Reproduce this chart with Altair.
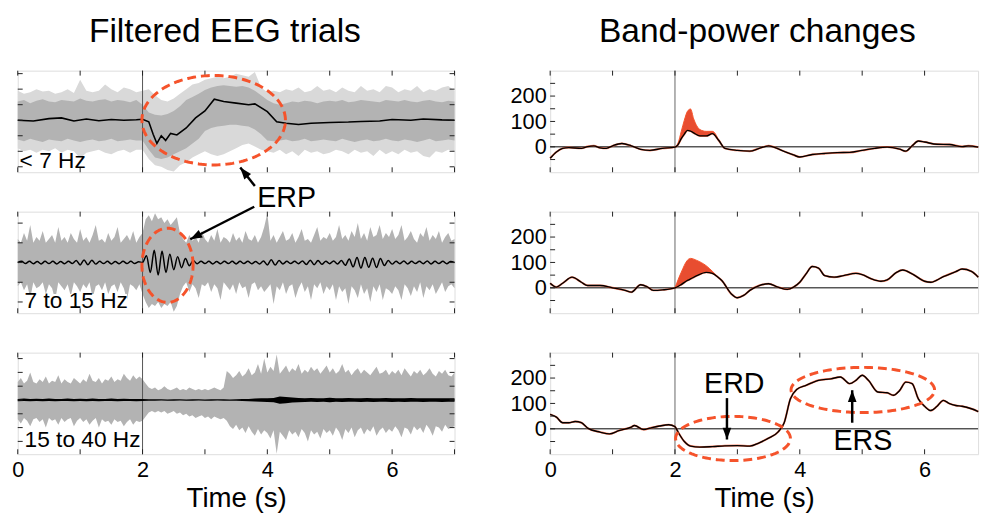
import altair as alt
import numpy as np
import pandas as pd

FONT = "Liberation Sans"
GREY = "#b3b3b3"
GREY_LIGHT = "#d9d9d9"
RED = "#f5532b"
ORANGE = "#e84d30"
TICK = "#222222"
VLINE = "#555555"

W_L, W_R, H = 443, 434, 103
X_MAX_R = 6.857
TL = 5  # inward tick length (px)

# ---------------- time grids ----------------
t10 = np.round(np.arange(71) * 0.1, 3)
t05 = np.round(np.arange(141) * 0.05, 3)
t_osc = np.round(np.arange(113) * 0.0625, 4)

# ---------------- Left 1 : < 7 Hz ----------------
l1_core_hi = [1.2, 1.3, 1.1, 1.25, 1.35, 1.2, 1.15, 1.3, 1.25, 1.2,
              1.4, 1.25, 1.2, 1.3, 1.35, 1.2, 1.3, 1.25, 1.15, 1.3,
              1.0, 0.5, 0.35, 0.3, 0.4, 0.6, 0.9, 1.3, 1.5, 1.7,
              1.95, 2.1, 2.2, 2.25, 2.2, 2.15, 2.2, 2.1, 1.9, 1.6,
              1.3, 1.1, 1.0, 1.1, 1.2, 1.15, 1.25, 1.2, 1.1, 1.2,
              1.25, 1.2, 1.3, 1.15, 1.2, 1.3, 1.25, 1.2, 1.15, 1.3,
              1.25, 1.2, 1.3, 1.2, 1.15, 1.25, 1.3, 1.2, 1.15, 1.25, 1.2]
l1_core_lo = [-1.25, -1.35, -1.2, -1.3, -1.4, -1.25, -1.3, -1.35, -1.2, -1.3,
              -1.4, -1.3, -1.25, -1.35, -1.3, -1.2, -1.35, -1.3, -1.25, -1.3,
              -1.3, -1.9, -2.4, -2.5, -2.4, -2.2, -2.0, -1.8, -1.5, -1.2,
              -0.7, -0.5, -0.4, -0.35, -0.3, -0.3, -0.35, -0.4, -0.6, -0.9,
              -1.3, -1.35, -1.3, -1.25, -1.35, -1.3, -1.2, -1.35, -1.3, -1.25,
              -1.3, -1.35, -1.2, -1.3, -1.4, -1.3, -1.25, -1.35, -1.3, -1.2,
              -1.3, -1.35, -1.25, -1.3, -1.4, -1.3, -1.2, -1.35, -1.3, -1.25, -1.3]
l1_outer_hi = [1.9, 1.7, 1.8, 2.0, 1.85, 1.9, 1.7, 1.8, 2.0, 1.75,
               2.6, 1.9, 1.8, 1.9, 2.3, 2.0, 1.8, 2.1, 2.0, 1.8,
               1.9, 2.0, 1.6, 1.3, 1.2, 1.4, 1.7, 2.0, 2.3, 2.4,
               2.6, 2.7, 2.8, 2.7, 2.8, 3.0, 2.9, 2.8, 3.1, 2.1,
               1.8, 1.9, 1.8, 2.0, 1.9, 2.1, 1.8, 1.9, 2.2, 1.9,
               2.0, 1.8, 2.1, 1.9, 1.8, 2.2, 1.9, 2.0, 1.8, 2.2,
               2.1, 1.8, 2.0, 1.9, 2.2, 1.8, 2.0, 1.9, 2.1, 2.2, 1.9]
l1_outer_lo = [-1.8, -2.0, -1.9, -2.1, -1.9, -2.0, -1.8, -2.1, -1.9, -2.0,
               -2.45, -2.1, -2.0, -1.9, -2.1, -2.2, -2.0, -1.9, -2.1, -1.9,
               -1.9, -2.5, -2.9, -3.0, -3.2, -3.3, -2.9, -2.7, -2.4, -2.2,
               -2.0, -2.2, -2.3, -2.2, -2.0, -1.8, -1.6, -1.5, -1.7, -1.9,
               -2.0, -2.1, -1.9, -2.2, -2.0, -2.3, -1.9, -2.1, -2.0, -2.2,
               -2.1, -1.9, -2.0, -2.2, -1.9, -2.1, -2.0, -2.3, -1.9, -2.2,
               -2.0, -2.2, -1.9, -2.1, -2.0, -2.3, -2.4, -2.0, -2.1, -1.9, -2.0]
l1_mean_t = [0, 0.25, 0.5, 0.7, 0.9, 1.1, 1.3, 1.5, 1.7, 1.9,
             2.0, 2.1, 2.17, 2.23, 2.3, 2.37, 2.45, 2.55, 2.7, 2.85,
             3.0, 3.15, 3.3, 3.5, 3.7, 3.8, 4.0, 4.15, 4.3, 4.5,
             4.7, 5.0, 5.3, 5.5, 5.8, 6.0, 6.3, 6.5, 6.8, 7.0]
l1_mean_v = [0.0, -0.05, 0.1, 0.15, -0.05, 0.08, -0.03, 0.05, 0.0, 0.03,
             0.06, -0.1, -0.9, -1.5, -1.0, -1.3, -0.85, -0.95, -0.5, 0.15,
             0.6, 1.35, 1.2, 1.1, 1.0, 1.05, 0.55, -0.1, -0.2, -0.28,
             -0.2, -0.15, -0.12, -0.08, -0.05, 0.05, 0.0, 0.08, 0.02, 0.0]

# ---------------- Left 2 : 7 to 15 Hz ----------------
l2_hi = [1.2, 1.0, 1.5, 1.1, 1.9, 1.0, 1.3, 1.1, 1.6, 1.0, 1.2, 1.4, 1.0, 1.8, 1.1, 1.3, 1.0, 1.5, 1.2, 1.0,
         1.7, 1.1, 1.3, 1.0, 1.4, 1.9, 1.1, 1.2, 1.0, 1.5, 1.1, 1.3, 1.8, 1.0, 1.2, 1.4, 1.1, 1.6, 1.0, 1.3,
         1.5, 2.2, 2.4, 2.1, 2.5, 2.2, 2.3, 2.0, 2.2, 1.9, 2.1, 2.3, 1.5, 1.2, 1.0, 1.4, 1.1, 1.3, 1.0, 1.6,
         1.2, 1.0, 1.4, 1.1, 1.7, 1.0, 1.3, 1.2, 1.0, 1.5, 1.1, 1.3, 1.0, 1.6, 1.2, 1.1, 1.4, 1.0, 1.3, 1.8,
         2.5, 1.1, 1.4, 1.0, 1.3, 1.6, 1.1, 1.2, 1.5, 1.0, 1.3, 1.7, 1.1, 1.2, 1.0, 1.4, 1.8, 1.1, 1.3, 1.2,
         1.5, 1.1, 1.3, 1.9, 1.2, 1.4, 1.1, 1.6, 1.3, 2.0, 1.2, 1.5, 1.1, 1.8, 1.3, 1.4, 1.9, 1.2, 1.5, 1.3,
         1.7, 1.2, 1.4, 1.9, 1.1, 1.3, 1.6, 1.2, 1.0, 1.5, 1.3, 1.8, 1.1, 1.4, 1.2, 1.6, 1.0, 1.3, 1.5, 1.1, 1.2]
l2_lo = [-1.2, -1.0, -1.4, -1.1, -1.8, -1.0, -1.3, -1.2, -1.0, -1.6, -1.1, -1.3, -1.9, -1.0, -1.2, -1.4, -1.1, -1.7, -1.0, -1.2,
         -1.5, -1.1, -1.3, -1.0, -1.8, -1.2, -1.1, -1.4, -1.0, -1.6, -1.2, -1.1, -1.5, -1.0, -1.3, -1.9, -1.1, -1.2, -1.4, -1.1,
         -1.6, -2.0, -2.3, -2.1, -2.2, -2.0, -2.3, -2.1, -2.2, -2.0, -2.5, -2.2, -1.6, -1.2, -1.0, -1.5, -1.1, -1.3, -1.8, -1.1,
         -1.2, -1.0, -1.5, -1.1, -1.3, -1.9, -1.0, -1.2, -1.4, -1.1, -1.6, -1.0, -1.3, -1.2, -1.8, -1.1, -1.0, -1.4, -1.2, -1.5,
         -1.3, -1.1, -2.1, -1.2, -1.4, -1.0, -1.6, -1.2, -1.1, -1.8, -1.3, -1.0, -1.5, -1.2, -1.9, -1.1, -1.3, -1.0, -1.6, -1.2,
         -1.4, -1.1, -1.9, -1.2, -1.5, -1.3, -2.1, -1.2, -1.4, -1.8, -1.1, -1.6, -1.3, -2.0, -1.2, -1.5, -1.1, -1.9, -1.3, -1.4,
         -1.6, -1.2, -1.4, -1.9, -1.1, -1.3, -1.7, -1.2, -1.5, -1.0, -1.8, -1.2, -1.4, -1.1, -1.6, -1.3, -1.0, -1.5, -1.2, -1.1, -1.3]
l2_mean = [0.0, 0.06, -0.05, 0.07, -0.06, 0.05, -0.07, 0.06,
           -0.05, 0.06, -0.07, 0.05, -0.06, 0.07, -0.05, 0.1,
           -0.12, 0.13, -0.11, 0.12, -0.08, 0.06, -0.05, 0.06,
           -0.07, 0.05, -0.06, 0.07, -0.05, 0.06, -0.05, 0.04,
           0.0,
           0.35, -0.5, 0.62, -0.63, 0.57, -0.5, 0.42, -0.36, 0.3, -0.26, 0.2, -0.16, 0.1,
           -0.06, 0.07, -0.05, 0.06, -0.07, 0.05, -0.06, 0.07,
           -0.05, 0.06, -0.07, 0.06, -0.05, 0.07, -0.06, 0.05,
           -0.07, 0.08, -0.12, 0.14, -0.13, 0.1, -0.07, 0.06,
           -0.05, 0.07, -0.06, 0.08, -0.1, 0.12, -0.11, 0.1,
           -0.09, 0.07, -0.06, 0.08, -0.07, 0.1, -0.14, 0.18,
           -0.22, 0.25, -0.28, 0.26, -0.24, 0.22, -0.25, 0.2,
           -0.15, 0.1, -0.08, 0.07, -0.06, 0.08, -0.07, 0.06,
           -0.05, 0.07, -0.06, 0.08, -0.07, 0.06, -0.05, 0.07,
           -0.06, 0.05, 0.0]

# ---------------- Left 3 : 15 to 40 Hz ----------------
l3_hi = [1.3, 1.6, 1.2, 1.4, 2.0, 1.3, 1.2, 1.5, 1.3, 1.7, 1.2, 1.4, 1.3, 1.8, 1.2, 1.5, 1.3, 1.2, 1.6, 1.4,
         1.2, 1.5, 1.3, 1.9, 1.4, 1.3, 1.6, 1.2, 1.5, 1.4, 1.7, 1.3, 1.5, 1.4, 1.9, 1.6, 1.4, 1.8, 1.5, 1.7,
         1.5, 1.2, 0.9, 0.8, 0.9, 0.7, 0.8, 1.0, 0.8, 0.7, 0.8, 0.9, 0.7, 0.8, 0.7, 0.9, 0.8, 0.7, 0.8, 0.7,
         0.8, 0.7, 0.8, 0.9, 0.8, 0.7, 0.9, 2.1, 1.9, 1.6, 1.8, 2.1, 1.7, 1.9, 2.3, 1.8, 2.0, 2.6, 1.9, 3.0,
         2.0, 2.4, 2.1, 3.3, 1.9, 2.2, 2.5, 2.0, 2.3, 2.1, 2.6, 1.9, 2.2, 2.0, 2.4, 2.1, 2.3, 1.9, 2.2, 2.5,
         2.0, 2.3, 1.9, 2.1, 2.6, 2.0, 2.2, 1.8, 2.1, 2.3, 1.9, 2.2, 2.0, 1.8, 2.1, 2.4, 1.9, 2.0, 2.2, 1.8,
         2.1, 1.9, 2.2, 1.8, 2.3, 2.0, 1.7, 2.1, 1.9, 2.2, 1.8, 2.0, 2.3, 1.9, 1.7, 2.1, 1.9, 2.2, 1.8, 1.7, 2.0]
l3_lo = [-1.4, -1.7, -1.3, -1.5, -1.9, -1.4, -1.3, -1.6, -1.4, -2.0, -1.3, -1.5, -1.4, -1.8, -1.3, -1.6, -1.4, -1.3, -1.9, -1.5,
         -1.3, -1.6, -1.4, -1.8, -1.5, -1.3, -2.0, -1.4, -1.6, -1.5, -1.8, -1.4, -1.6, -1.5, -1.9, -1.6, -1.4, -1.8, -1.5, -1.6,
         -1.5, -1.2, -0.9, -0.8, -0.9, -0.8, -0.9, -0.8, -1.0, -0.9, -0.8, -1.0, -0.9, -1.1, -1.0, -1.2, -1.1, -1.3, -1.2, -1.1,
         -1.3, -1.2, -1.4, -1.2, -1.3, -1.4, -1.3, -1.5, -1.9, -2.1, -1.8, -2.2, -2.0, -2.4, -1.9, -2.3, -2.6, -2.1, -2.5, -2.2,
         -2.4, -2.8, -2.2, -3.9, -2.3, -2.6, -2.9, -2.2, -2.5, -2.3, -2.7, -2.1, -2.4, -3.0, -2.2, -2.5, -2.3, -2.8, -2.1, -2.4,
         -2.2, -2.6, -2.0, -2.3, -2.9, -2.1, -2.4, -2.0, -2.7, -2.2, -2.0, -2.5, -2.1, -2.3, -1.9, -2.6, -2.2, -2.0, -2.4, -2.1,
         -2.3, -1.9, -2.2, -2.7, -2.0, -2.1, -2.5, -1.9, -2.2, -2.0, -2.4, -1.8, -2.1, -2.6, -1.9, -2.0, -2.3, -1.8, -2.1, -2.0, -1.9]
l3_mean_hi = [0.08, 0.1, 0.07, 0.09, 0.08, 0.1, 0.07, 0.08, 0.1, 0.07,
              0.09, 0.08, 0.11, 0.07, 0.08, 0.1, 0.07, 0.09, 0.08, 0.07,
              0.07, 0.05, 0.05, 0.06, 0.04, 0.05, 0.06, 0.04, 0.05, 0.06,
              0.04, 0.05, 0.06, 0.05, 0.04, 0.06, 0.07, 0.08,
              0.1, 0.12, 0.13, 0.15, 0.25, 0.22, 0.18, 0.15,
              0.13, 0.15, 0.12, 0.13, 0.16, 0.13, 0.12, 0.15, 0.13, 0.12,
              0.14, 0.12, 0.13, 0.15, 0.12, 0.13, 0.12, 0.15, 0.13, 0.12,
              0.13, 0.12, 0.12, 0.13, 0.12]
l3_mean_lo = [-0.09, -0.07, -0.1, -0.08, -0.1, -0.07, -0.09, -0.08, -0.07, -0.1,
              -0.08, -0.1, -0.07, -0.09, -0.08, -0.07, -0.1, -0.08, -0.07, -0.09,
              -0.07, -0.05, -0.06, -0.04, -0.05, -0.06, -0.04, -0.05, -0.06, -0.04,
              -0.05, -0.06, -0.04, -0.05, -0.06, -0.05, -0.07, -0.09,
              -0.11, -0.13, -0.15, -0.17, -0.27, -0.24, -0.19, -0.17,
              -0.14, -0.13, -0.14, -0.12, -0.16, -0.13, -0.14, -0.12, -0.13, -0.15,
              -0.12, -0.14, -0.13, -0.12, -0.15, -0.13, -0.14, -0.12, -0.13, -0.15,
              -0.12, -0.13, -0.14, -0.12, -0.13]

# ---------------- Right 1 : band power < 7 Hz ----------------
r1_t = [0, 0.1, 0.2, 0.3, 0.5, 0.6, 0.7, 0.8, 0.9, 1.0, 1.15, 1.3, 1.45, 1.6, 1.8,
        2.0, 2.05, 2.1, 2.15, 2.2, 2.25, 2.3, 2.4, 2.5, 2.6, 2.7,
        2.8, 3.0, 3.2, 3.35, 3.5, 3.7, 3.9, 4.0, 4.2, 4.4, 4.6, 4.8, 5.0, 5.2, 5.4,
        5.6, 5.7, 5.8, 5.9, 6.0, 6.2, 6.4, 6.6, 6.7, 6.86]
r1_v = [-45, -20, -6, -3, -6, 1, 4, -4, -6, 4, 13, 4, -10, -14, -6,
        -1, 9, 32, 50, 65, 62, 55, 43, 43, 52, 26,
        -6, -14, -17, -6, 4, -13, -32, -40, -30, -26, -23, -22, -14, -6, -1,
        -9, -17, 4, 23, 19, 10, 9, 1, 4, -1]
r1_erp_hi = [-1, 15, 60, 105, 140, 149, 110, 68, 61, 61, 26]   # t = 2.0 ... 2.7
R1_ERP = (15, 26)

# ---------------- Right 2 : band power 7-15 Hz ----------------
r2_t = [0, 0.1, 0.2, 0.35, 0.5, 0.6, 0.8, 1.0, 1.2, 1.3, 1.45, 1.55, 1.65, 1.8,
        2.0, 2.1, 2.2, 2.25, 2.35, 2.5, 2.6, 2.7,
        2.75, 2.9, 3.0, 3.1, 3.2, 3.35, 3.5, 3.65, 3.8, 3.9, 4.0, 4.1, 4.2, 4.3, 4.4,
        4.55, 4.7, 4.9, 5.0, 5.15, 5.3, 5.4, 5.55, 5.65, 5.8, 6.0, 6.1, 6.3, 6.5, 6.6, 6.75, 6.86]
r2_v = [18, 3, 18, 42, 22, 9, 9, 0, -10, -17, 12, 5, -10, -8,
        0, 13, 29, 35, 48, 61, 57, 40,
        29, -23, -39, -30, -10, 9, 16, 3, -6, 3, 22, 55, 84, 78, 48,
        42, 48, 57, 52, 35, 26, 31, 61, 70, 55, 26, 22, 44, 64, 74, 65, 42]
r2_erp_hi = [0, 61, 109, 116, 108, 87, 65, 40]   # t = 2.0 ... 2.7
R2_ERP = (14, 22)

# ---------------- Right 3 : band power 15-40 Hz ----------------
r3_t = [0, 0.1, 0.2, 0.3, 0.4, 0.5, 0.6, 0.8, 0.95, 1.1, 1.3, 1.35, 1.5, 1.6, 1.75, 1.9,
        2.0, 2.05, 2.15, 2.25, 2.4, 2.6, 2.8, 3.0, 3.2, 3.35, 3.5, 3.65, 3.75, 3.85, 3.95,
        4.1, 4.3, 4.5, 4.65, 4.8, 4.9, 5.0, 5.1, 5.25, 5.4, 5.5, 5.6, 5.7, 5.8, 5.9,
        6.0, 6.1, 6.2, 6.3, 6.4, 6.5, 6.6, 6.75, 6.86]
r3_v = [57, 46, 24, 24, 29, 24, 3, -13, -20, -7, 7, 13, -3, 3, 11, 16,
        9, -13, -50, -68, -72, -70, -67, -66, -68, -55, -37, -13, 24, 118, 155,
        171, 191, 197, 204, 178, 191, 211, 191, 145, 142, 132, 151, 184, 178, 118,
        89, 72, 89, 112, 99, 92, 89, 79, 68]

# ---------------- annotations (data coordinates) ----------------
# ellipses: centre t, centre v, radius t, radius v
ell_l1 = (3.14, 0.0, 1.15, 2.88)
ell_l2 = (2.40, -0.14, 0.41, 1.88)
ell_erd = (2.93, -38, 0.92, 87)
ell_ers = (5.01, 153, 1.15, 89)
# arrows: tail (t, v), tip (t, v), head angle (deg, clockwise from up)
arr_l1 = (3.80, -4.23, 3.566, -3.05, 321)
arr_l2 = (3.79, 2.83, 2.765, 1.18, 242)
arr_erd = (2.833, 121, 2.833, -42, 180)
arr_ers = (4.84, 24, 4.84, 152, 0)
# white boxes behind the band labels: t0, t1, v0, v1
box_l1 = (0.02, 1.45, -3.3, -2.3)
box_l2 = (0.02, 1.75, -2.52, -1.6)
box_l3 = (0.02, 1.97, -3.88, -2.55)

ARROW_HEAD = "M0,0 L0.55,1.5 L-0.55,1.5 Z"


def ellipse_df(p, n=160):
    cx, cy, rx, ry = p
    a = np.linspace(0, 2 * np.pi, n)
    return pd.DataFrame({"t": cx + rx * np.cos(a), "v": cy + ry * np.sin(a), "i": np.arange(n)})


def encoders(xdom, ydom, xax, yax):
    xs = alt.Scale(domain=xdom, nice=False, zero=False)
    ys = alt.Scale(domain=ydom, nice=False, zero=False)

    def X(f):
        return alt.X(f"{f}:Q", scale=xs, axis=xax)

    def Y(f):
        return alt.Y(f"{f}:Q", scale=ys, axis=yax)
    return X, Y


def tick_layers(X, Y, xticks, yticks, w, h, right_side):
    xt = pd.DataFrame({"t": xticks})
    yt = pd.DataFrame({"v": yticks})
    out = [
        alt.Chart(xt).mark_rule(color=TICK, strokeWidth=1).encode(x=X("t"), y=alt.value(0), y2=alt.value(TL)),
        alt.Chart(xt).mark_rule(color=TICK, strokeWidth=1).encode(x=X("t"), y=alt.value(h - TL), y2=alt.value(h)),
        alt.Chart(yt).mark_rule(color=TICK, strokeWidth=1).encode(y=Y("v"), x=alt.value(0), x2=alt.value(TL)),
    ]
    if right_side:
        out.append(alt.Chart(yt).mark_rule(color=TICK, strokeWidth=1).encode(
            y=Y("v"), x=alt.value(w - TL), x2=alt.value(w)))
    return out


def ellipse_layer(X, Y, p):
    return alt.Chart(ellipse_df(p)).mark_line(color=RED, strokeWidth=3, strokeDash=[9, 5]).encode(
        x=X("t"), y=Y("v"), order=alt.Order("i:Q"))


def arrow_layers(X, Y, a):
    t0, v0, t1, v1, ang = a
    line = alt.Chart(pd.DataFrame({"t": [t0, t1], "v": [v0, v1], "i": [0, 1]})).mark_line(
        color="black", strokeWidth=2.5).encode(x=X("t"), y=Y("v"), order=alt.Order("i:Q"))
    head = alt.Chart(pd.DataFrame({"t": [t1], "v": [v1]})).mark_point(
        shape=ARROW_HEAD, filled=True, color="black", opacity=1, size=256, angle=ang, strokeWidth=0
    ).encode(x=X("t"), y=Y("v"))
    return [line, head]


def text_layer(X, Y, t, v, s, size, align="center", baseline="middle"):
    return alt.Chart(pd.DataFrame({"t": [t], "v": [v], "s": [s]})).mark_text(
        font=FONT, fontSize=size, align=align, baseline=baseline, color="black").encode(
        x=X("t"), y=Y("v"), text="s:N")


def box_layer(X, Y, b):
    t0, t1, v0, v1 = b
    return alt.Chart(pd.DataFrame({"t": [t0], "t2": [t1], "v": [v0], "v2": [v1]})).mark_rect(
        color="white").encode(x=X("t"), x2=alt.X2("t2"), y=Y("v"), y2=alt.Y2("v2"))


def vline(X, color):
    return alt.Chart(pd.DataFrame({"t": [2.0]})).mark_rule(color=color, strokeWidth=1).encode(x=X("t"))


x_axis_bottom = alt.Axis(values=[0, 2, 4, 6], format="d", ticks=False, tickSize=0, domain=False, grid=False,
                         labelFontSize=22, labelPadding=6, labelFlush=False, labelColor="black",
                         labelFont=FONT, title="Time (s)", titleFontSize=28, titleFont=FONT,
                         titleFontWeight="normal", titleColor="black", titlePadding=4)
y_axis_right = alt.Axis(values=[0, 100, 200], ticks=False, tickSize=0, domain=False, grid=False,
                        labelFontSize=22, labelPadding=4, labelColor="black", labelFont=FONT, title=None)

# ---------------- left column ----------------
LX = [0, 7]
lxt = [0, 1, 2, 3, 4, 5, 6, 7]

# L1
X, Y = encoders(LX, [-3.35, 3.19], None, None)
d1 = pd.DataFrame({"t": t10, "chi": l1_core_hi, "clo": l1_core_lo, "ohi": l1_outer_hi, "olo": l1_outer_lo})
m1 = pd.DataFrame({"t": l1_mean_t, "v": l1_mean_v})
L1 = alt.layer(
    alt.Chart(d1).mark_area(color=GREY_LIGHT).encode(x=X("t"), y=Y("olo"), y2=alt.Y2("ohi")),
    alt.Chart(d1).mark_area(color=GREY).encode(x=X("t"), y=Y("clo"), y2=alt.Y2("chi")),
    vline(X, VLINE),
    alt.Chart(m1).mark_line(color="black", strokeWidth=1.6).encode(x=X("t"), y=Y("v")),
    box_layer(X, Y, box_l1),
    *tick_layers(X, Y, lxt, [-3, -2, -1, 0, 1, 2, 3], W_L, H, True),
    text_layer(X, Y, 0.03, -3.1, "< 7 Hz", 23, align="left", baseline="alphabetic"),
    ellipse_layer(X, Y, ell_l1),
    *arrow_layers(X, Y, arr_l1),
    text_layer(X, Y, 4.31, -5.0, "ERP", 29),
    text_layer(X, Y, 3.32, 5.03, "Filtered EEG trials", 34, baseline="alphabetic"),
).properties(width=W_L, height=H)

# L2
X, Y = encoders(LX, [-2.57, 2.58], None, None)
d2 = pd.DataFrame({"t": t05, "hi": l2_hi, "lo": l2_lo})
m2 = pd.DataFrame({"t": t_osc, "v": l2_mean})
L2 = alt.layer(
    alt.Chart(d2).mark_area(color=GREY).encode(x=X("t"), y=Y("lo"), y2=alt.Y2("hi")),
    vline(X, VLINE),
    alt.Chart(m2).mark_line(color="black", strokeWidth=1.5, interpolate="monotone").encode(x=X("t"), y=Y("v")),
    box_layer(X, Y, box_l2),
    *tick_layers(X, Y, lxt, [-2, -1, 0, 1, 2], W_L, H, True),
    text_layer(X, Y, 0.11, -2.3, "7 to 15 Hz", 23, align="left", baseline="alphabetic"),
    ellipse_layer(X, Y, ell_l2),
    *arrow_layers(X, Y, arr_l2),
).properties(width=W_L, height=H)

# L3
X, Y = encoders(LX, [-3.93, 3.43], x_axis_bottom, None)
d3 = pd.DataFrame({"t": t05, "hi": l3_hi, "lo": l3_lo})
m3 = pd.DataFrame({"t": t10, "hi": l3_mean_hi, "lo": l3_mean_lo})
L3 = alt.layer(
    alt.Chart(d3).mark_area(color=GREY).encode(x=X("t"), y=Y("lo"), y2=alt.Y2("hi")),
    vline(X, VLINE),
    alt.Chart(m3).mark_area(color="black").encode(x=X("t"), y=Y("lo"), y2=alt.Y2("hi")),
    box_layer(X, Y, box_l3),
    *tick_layers(X, Y, lxt, [-3, -2, -1, 0, 1, 2, 3], W_L, H, True),
    text_layer(X, Y, 0.11, -3.43, "15 to 40 Hz", 23, align="left", baseline="alphabetic"),
).properties(width=W_L, height=H)

# ---------------- right column ----------------
RX = [0, X_MAX_R]
rxt = [0, 1, 2, 3, 4, 5, 6]
ryt = [-50, 0, 50, 100, 150, 200, 250]
RY = [-100, 300]


def right_panel(t, v, erp, erp_hi, xax, extra, title=None):
    X, Y = encoders(RX, RY, xax, y_axis_right)
    df = pd.DataFrame({"t": t, "v": v})
    layers = [
        alt.Chart(pd.DataFrame({"v": [0]})).mark_rule(color="black", strokeWidth=1).encode(y=Y("v")),
        vline(X, "#666666"),
    ]
    if erp is not None:
        a, b = erp
        de = pd.DataFrame({"t": t[a:b], "lo": v[a:b], "hi": erp_hi})
        layers.append(alt.Chart(de).mark_area(color=ORANGE, interpolate="monotone").encode(
            x=X("t"), y=Y("lo"), y2=alt.Y2("hi")))
        layers.append(alt.Chart(de).mark_line(color=RED, strokeWidth=1, interpolate="monotone").encode(
            x=X("t"), y=Y("hi")))
    layers.append(alt.Chart(df).mark_line(color=RED, strokeWidth=2, interpolate="monotone", opacity=0.8).encode(
        x=X("t"), y=Y("v")))
    layers.append(alt.Chart(df).mark_line(color="black", strokeWidth=1.4, interpolate="monotone").encode(
        x=X("t"), y=Y("v")))
    layers += tick_layers(X, Y, rxt, ryt, W_R, H, False)
    layers += extra(X, Y)
    if title:
        layers.append(text_layer(X, Y, 3.32, 413, title, 34, baseline="alphabetic"))
    return alt.layer(*layers).properties(width=W_R, height=H)


R1 = right_panel(r1_t, r1_v, R1_ERP, r1_erp_hi, None, lambda X, Y: [], title="Band-power changes")
R2 = right_panel(r2_t, r2_v, R2_ERP, r2_erp_hi, None, lambda X, Y: [])


def r3_extra(X, Y):
    return [
        ellipse_layer(X, Y, ell_erd),
        ellipse_layer(X, Y, ell_ers),
        *arrow_layers(X, Y, arr_erd),
        *arrow_layers(X, Y, arr_ers),
        text_layer(X, Y, 2.95, 176, "ERD", 29),
        text_layer(X, Y, 5.01, -50, "ERS", 29),
    ]


R3 = right_panel(r3_t, r3_v, None, None, x_axis_bottom, r3_extra)

left = alt.vconcat(L1, L2, L3, spacing=40, bounds="flush")
right = alt.vconcat(R1, R2, R3, spacing=40, bounds="flush")

chart = alt.hconcat(left, right, spacing=51).properties(
    padding={"left": 11, "top": 11, "right": 0, "bottom": 0},
    background="white",
).configure_view(stroke="black", strokeWidth=1.3).configure(font=FONT)

chart.save("out.html", embed_options={"renderer": "svg", "actions": False})
